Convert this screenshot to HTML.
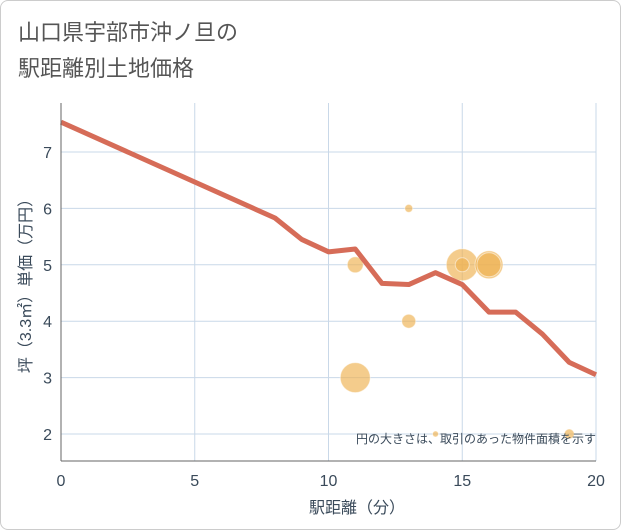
<!DOCTYPE html>
<html><head><meta charset="utf-8">
<style>
html,body{margin:0;padding:0;background:#fff;}
body{width:621px;height:530px;overflow:hidden;font-family:"Liberation Sans","Noto Sans CJK JP",sans-serif;}
#frame{position:absolute;left:0;top:0;width:619px;height:528px;border:1px solid #ccc;border-radius:8px;background:#fff;}
</style></head>
<body>
<div id="frame"></div>
<svg id="chart" width="621" height="530" style="position:absolute;left:0;top:0"
 font-family="Liberation Sans, Noto Sans CJK JP, sans-serif">
<text x="18" y="40" font-size="22" fill="#555">山口県宇部市沖ノ旦の</text>
<text x="18" y="76" font-size="22" fill="#555">駅距離別土地価格</text>
<g id="grid"></g>
<g id="bubbles"></g>
<g id="line"></g>
<g id="axes"></g>
<text x="596" y="443" font-size="12" fill="#3a4a5a" text-anchor="end">円の大きさは、取引のあった物件面積を示す</text>
<text x="357" y="513" font-size="16" fill="#3a4a5a" text-anchor="middle">駅距離（分）</text>
<text transform="translate(31,282) rotate(-90)" font-size="16" fill="#3a4a5a" text-anchor="middle">坪（3.3㎡）単価（万円）</text>
</svg>
<script>
const xTicks=[0,5,10,15,20];
const yTicks=[2,3,4,5,6,7];
const lineX=[0,8,9,10,11,12,13,14,15,16,17,18,19,20];
const lineY=[7.53,5.83,5.45,5.23,5.28,4.67,4.65,4.86,4.65,4.16,4.16,3.77,3.27,3.05];
const bubX=[13,11,15,15,16,16,13,11,14,19];
const bubY=[6.0,5.0,5.0,5.0,5.0,5.0,4.0,3.0,2.0,2.0];
const bubR=[4,8,16,7,14,12,7,15,3,5];

const L=61,R=596,T=103,B=461;
const sx=v=>L+(v-0)/20*(R-L);
const sy=v=>434-(v-2)*56.4;
const NS="http://www.w3.org/2000/svg";
function mk(tag,parent,attrs){const e=document.createElementNS(NS,tag);for(const k in attrs)e.setAttribute(k,attrs[k]);parent.appendChild(e);return e;}
const grid=document.getElementById('grid'),axes=document.getElementById('axes');
xTicks.forEach(v=>{const l=mk('line',grid,{x1:sx(v),x2:sx(v),y1:T,y2:B,stroke:'#c9d8e8','stroke-width':1});


const t=mk('text',axes,{x:sx(v),y:486,'font-size':16,fill:'#3a4a5a','text-anchor':'middle'});t.textContent=v;

});
yTicks.forEach(v=>{const l=mk('line',grid,{x1:L,x2:R,y1:sy(v),y2:sy(v),stroke:'#c9d8e8','stroke-width':1});


const t=mk('text',axes,{x:52,y:sy(v)+6,'font-size':16,fill:'#3a4a5a','text-anchor':'end'});t.textContent=v;

});
const xa=mk('line',axes,{x1:L,x2:R,y1:B,y2:B,stroke:'#666','stroke-width':1});


const ya=mk('line',axes,{x1:L,x2:L,y1:T,y2:B,stroke:'#666','stroke-width':1});


const bg=document.getElementById('bubbles');
bubX.forEach((x,i)=>{const c=mk('circle',bg,{cx:sx(x),cy:sy(bubY[i]),r:bubR[i],fill:'#eeb04f','fill-opacity':0.65,stroke:'#fff','stroke-opacity':0.5});

});
const lg=document.getElementById('line');
const p=mk('polyline',lg,{points:lineX.map((x,i)=>sx(x)+','+sy(lineY[i])).join(' '),fill:'none',stroke:'#d66c58','stroke-width':5,'stroke-linejoin':'round'});


</script>
</body></html>
